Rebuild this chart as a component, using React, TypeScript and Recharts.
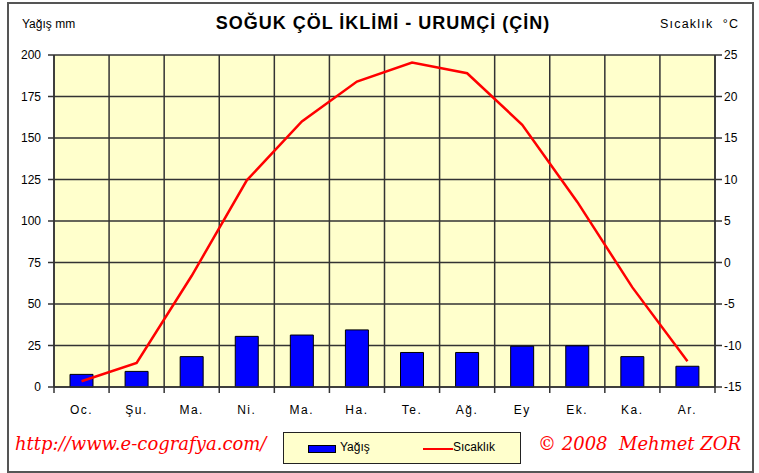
import { Bar, CartesianGrid, ComposedChart, Legend, Line, XAxis, YAxis } from 'recharts';

const AYLAR = ['Oc.', 'Şu.', 'Ma.', 'Ni.', 'Ma.', 'Ha.', 'Te.', 'Ağ.', 'Ey', 'Ek.', 'Ka.', 'Ar.'];
const YAGIS = [7.6, 9.4, 18.3, 30.5, 31.3, 34.4, 20.8, 20.8, 24.6, 24.8, 18.3, 12.5];
const SICAKLIK = [-14.3, -12.1, -1.6, 9.9, 17.0, 21.8, 24.1, 22.8, 16.6, 7.3, -3.0, -11.9];

const YAGIS_TICKS = [0, 25, 50, 75, 100, 125, 150, 175, 200];
const SICAKLIK_TICKS = [-15, -10, -5, 0, 5, 10, 15, 20, 25];
const BOLME_TICKS = [0, 1, 2, 3, 4, 5, 6, 7, 8, 9, 10, 11, 12];

const FONT = '"Liberation Sans", Arial, sans-serif';
const SCRIPT = '"DejaVu Serif", "Liberation Serif", serif';

// sira: month index centre, only used by the hidden boundary axis
const data = AYLAR.map((ay, i) => ({ ay, sira: i + 0.5, yagis: YAGIS[i], sicaklik: SICAKLIK[i] }));

const LegendBox = () => (
  <div
    style={{
      width: 236,
      height: 30,
      background: '#FFFFCC',
      border: '1px solid #222',
      position: 'relative',
      fontFamily: FONT,
      fontSize: 12,
      color: '#000',
    }}
  >
    <div style={{ position: 'absolute', left: 24, top: 12, width: 26, height: 6, background: '#0000FF', border: '1px solid #000' }} />
    <span style={{ position: 'absolute', left: 56, top: 7 }}>Yağış</span>
    <div style={{ position: 'absolute', left: 139, top: 15, width: 30, height: 2, background: '#FF0000' }} />
    <span style={{ position: 'absolute', left: 169, top: 7 }}>Sıcaklık</span>
  </div>
);

export default function App() {
  return (
    <div style={{ position: 'absolute', left: 0, top: 0, width: 759, height: 473, background: '#fff', fontFamily: FONT }}>
      <div style={{ position: 'absolute', left: 7, top: 2, width: 743, height: 467, border: '2px solid #555' }} />
      <div style={{ position: 'absolute', left: 22, top: 17, fontSize: 12, color: '#000' }}>Yağış mm</div>
      <div style={{ position: 'absolute', left: 0, width: 766, top: 13, textAlign: 'center', fontSize: 18, fontWeight: 'bold', letterSpacing: 1, color: '#000' }}>
        SOĞUK ÇÖL İKLİMİ - URUMÇİ (ÇİN)
      </div>
      <div style={{ position: 'absolute', left: 660, top: 17, fontSize: 12.5, letterSpacing: 1.2, color: '#000', whiteSpace: 'pre' }}>Sıcaklık  °C</div>

      <ComposedChart
        width={759}
        height={473}
        data={data}
        margin={{ top: 55, right: 4, bottom: 56, left: 8 }}
        style={{ position: 'absolute', left: 0, top: 0 }}
      >
        <CartesianGrid xAxisId="a0" yAxisId="left" fill="#FFFFCC" stroke="#333" strokeWidth={1.5} />
        <XAxis
          xAxisId="a0"
          type="number"
          dataKey="sira"
          domain={[0, 12]}
          ticks={BOLME_TICKS}
          allowDataOverflow
          height={6}
          tickSize={6}
          tickFormatter={() => ''}
          axisLine={{ stroke: '#333', strokeWidth: 1.5 }}
          tickLine={{ stroke: '#333', strokeWidth: 1.5 }}
        />
        <XAxis
          xAxisId="b1"
          dataKey="ay"
          height={24}
          axisLine={false}
          tickLine={false}
          tickSize={0}
          tickMargin={12}
          tick={{ fill: '#000', fontSize: 12, fontFamily: FONT, letterSpacing: 1.5 }}
        />
        <YAxis
          yAxisId="left"
          domain={[0, 200]}
          ticks={YAGIS_TICKS}
          width={46}
          tickSize={6}
          tickMargin={7}
          axisLine={{ stroke: '#333', strokeWidth: 1.5 }}
          tickLine={{ stroke: '#333', strokeWidth: 1.5 }}
          tick={{ fill: '#000', fontSize: 12, fontFamily: FONT }}
        />
        <YAxis
          yAxisId="right"
          orientation="right"
          domain={[-15, 25]}
          ticks={SICAKLIK_TICKS}
          width={40}
          tickSize={7}
          tickMargin={2}
          axisLine={{ stroke: '#333', strokeWidth: 1.5 }}
          tickLine={{ stroke: '#333', strokeWidth: 1.5 }}
          tick={{ fill: '#000', fontSize: 12, fontFamily: FONT }}
        />
        <Bar
          xAxisId="b1"
          yAxisId="left"
          dataKey="yagis"
          name="Yağış"
          fill="#0000FF"
          stroke="#000"
          strokeWidth={1}
          barSize={23}
          isAnimationActive={false}
        />
        <Line
          xAxisId="b1"
          yAxisId="right"
          type="linear"
          dataKey="sicaklik"
          name="Sıcaklık"
          stroke="#FF0000"
          strokeWidth={2.5}
          dot={false}
          isAnimationActive={false}
        />
        <Legend
          layout="horizontal"
          verticalAlign="middle"
          align="center"
          content={() => <LegendBox />}
          wrapperStyle={{ position: 'absolute', left: 283, top: 432, width: 238, height: 32 }}
        />
      </ComposedChart>

      <div style={{ position: 'absolute', left: 15, top: 433, fontFamily: SCRIPT, fontStyle: 'italic', fontSize: 18, color: '#FF0000' }}>
        http://www.e-cografya.com/
      </div>
      <div style={{ position: 'absolute', left: 538, top: 433, fontFamily: SCRIPT, fontStyle: 'italic', fontSize: 18, color: '#FF0000', whiteSpace: 'pre' }}>
        © 2008  Mehmet ZOR
      </div>
    </div>
  );
}
